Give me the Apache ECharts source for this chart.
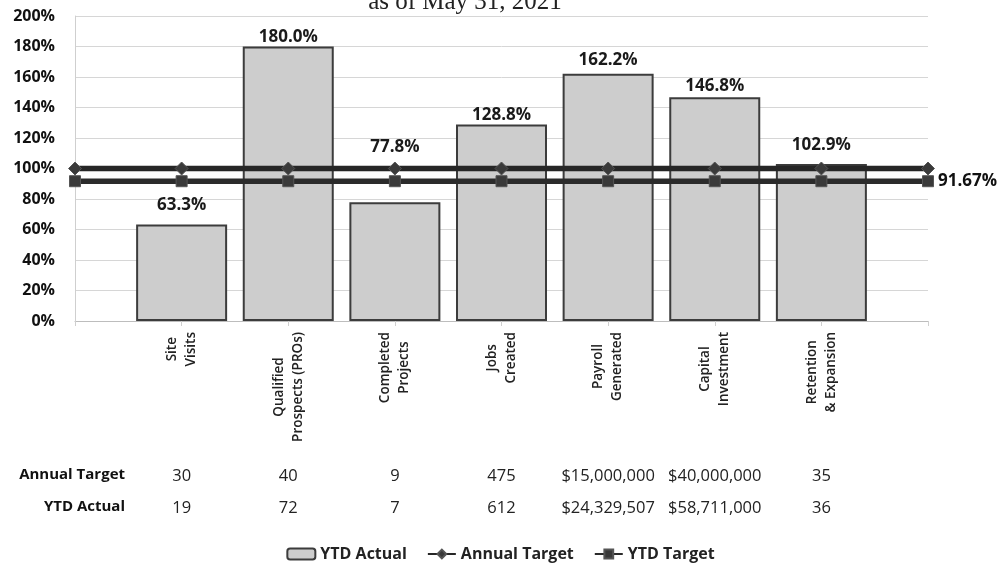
<!DOCTYPE html>
<html>
<head>
<meta charset="utf-8">
<script src="https://cdn.jsdelivr.net/npm/echarts@6/dist/echarts.min.js"></script>
<style>
html,body{margin:0;padding:0;background:#fff;}
#chart{width:1001px;height:569px;}
</style>
</head>
<body>
<div id="chart"></div>
<script>
// ---- data ----
const categories = ['Site\nVisits', 'Qualified\nProspects (PROs)', 'Completed\nProjects', 'Jobs\nCreated', 'Payroll\nGenerated', 'Capital\nInvestment', 'Retention\n& Expansion'];
const ytdActualPct = [63.3, 180.0, 77.8, 128.8, 162.2, 146.8, 102.9];
const annualTargetPct = [100, 100, 100, 100, 100, 100, 100, 100, 100];
const ytdTargetPct = [91.67, 91.67, 91.67, 91.67, 91.67, 91.67, 91.67, 91.67, 91.67];
const annualTargetRow = ['30', '40', '9', '475', '$15,000,000', '$40,000,000', '35'];
const ytdActualRow = ['19', '72', '7', '612', '$24,329,507', '$58,711,000', '36'];
const yTicks = [0, 20, 40, 60, 80, 100, 120, 140, 160, 180, 200];
const titleText = 'as of May 31, 2021';

// label gaps above bars (style only)
const labelDistances = [11, 1, 47, 1, 5, 2, 10];

const FONT = '"Open Sans", "DejaVu Sans", sans-serif';
const pad = arr => [''].concat(arr, ['']);

const barData = [null].concat(ytdActualPct.map((v, i) => ({
  value: v,
  label: { distance: labelDistances[i] }
})), [null]);

const ytdTargetData = ytdTargetPct.map((v, i) => i === ytdTargetPct.length - 1 ? {
  value: v,
  label: { show: true, position: 'right', distance: 4, formatter: p => p.value.toFixed(2) + '%',
           fontFamily: FONT, fontWeight: 'bold', fontSize: 17, color: '#111' }
} : v);

const chart = echarts.init(document.getElementById('chart'), null, { renderer: 'canvas' });

const tableAxis = (arr, offset) => ({
  type: 'category',
  data: pad(arr),
  boundaryGap: false,
  position: 'bottom',
  offset: offset,
  axisLine: { show: false },
  axisTick: { show: false },
  splitLine: { show: false },
  axisLabel: { interval: 0, margin: 0, fontFamily: FONT, fontSize: 16.5, color: '#222', verticalAlign: 'top' }
});

chart.setOption({
  animation: false,
  backgroundColor: '#fff',
  title: {
    text: titleText,
    left: 460, top: -15, textAlign: 'center',
    textStyle: { fontFamily: '"Liberation Serif", "DejaVu Serif", serif', fontWeight: 'normal', fontSize: 25, color: '#222' }
  },
  grid: { left: 75, right: 73, top: 16, bottom: 248, containLabel: false },
  legend: {
    bottom: 2, left: 'center',
    itemWidth: 28, itemHeight: 11, itemGap: 20,
    textStyle: { fontFamily: FONT, fontWeight: 'bold', fontSize: 16, color: '#222' },
    data: ['YTD Actual', 'Annual Target', 'YTD Target']
  },
  xAxis: [{
    type: 'category',
    data: pad(categories),
    boundaryGap: false,
    axisLine: { show: true, lineStyle: { color: '#bdbdbd' } },
    axisTick: { show: true, lineStyle: { color: '#cfcfcf' } },
    splitLine: { show: false },
    axisLabel: {
      interval: 0, rotate: 90, margin: 11,
      formatter: v => v ? v.split('\n').map(s => '{c|' + s + '}').join('\n') : '',
      rich: { c: { align: 'center', fontFamily: FONT, fontWeight: 600, fontSize: 13.5, lineHeight: 19, color: '#222' } }
    }
  }, tableAxis(annualTargetRow, 147), tableAxis(ytdActualRow, 179)],
  yAxis: {
    type: 'value', min: 0, max: 200, interval: 20,
    axisLine: { show: true, lineStyle: { color: '#cfcfcf' } },
    axisTick: { show: false },
    splitLine: { show: true, lineStyle: { color: '#d6d6d6', width: 1 } },
    axisLabel: { margin: 20, formatter: v => yTicks.includes(v) ? v + '%' : '',
                 fontFamily: FONT, fontWeight: 'bold', fontSize: 16, color: '#111' }
  },
  graphic: [
    { type: 'text', right: 1001 - 125, top: 467,
      style: { text: 'Annual Target', fontFamily: FONT, fontWeight: 'bold', fontSize: 15, fill: '#111' } },
    { type: 'text', right: 1001 - 125, top: 499,
      style: { text: 'YTD Actual', fontFamily: FONT, fontWeight: 'bold', fontSize: 15, fill: '#111' } }
  ],
  series: [{
    name: 'YTD Actual',
    type: 'bar',
    data: barData,
    barWidth: 91,
    itemStyle: { color: '#cdcdcd', borderColor: '#3c3c3c', borderWidth: 2 },
    label: { show: true, position: 'top', formatter: p => p.value.toFixed(1) + '%',
             fontFamily: FONT, fontWeight: 'bold', fontSize: 17, color: '#1a1a1a' },
    z: 2
  }, {
    name: 'Annual Target',
    type: 'line',
    data: annualTargetPct,
    symbol: 'diamond', symbolSize: 13,
    lineStyle: { color: '#262626', width: 5.5 },
    itemStyle: { color: '#3a3a3a', borderColor: '#555', borderWidth: 1 },
    z: 4
  }, {
    name: 'YTD Target',
    type: 'line',
    data: ytdTargetData,
    symbol: 'rect', symbolSize: 11,
    lineStyle: { color: '#2b2b2b', width: 5.5 },
    itemStyle: { color: '#3a3a3a', borderColor: '#555', borderWidth: 1 },
    z: 3
  }]
});
</script>
</body>
</html>
